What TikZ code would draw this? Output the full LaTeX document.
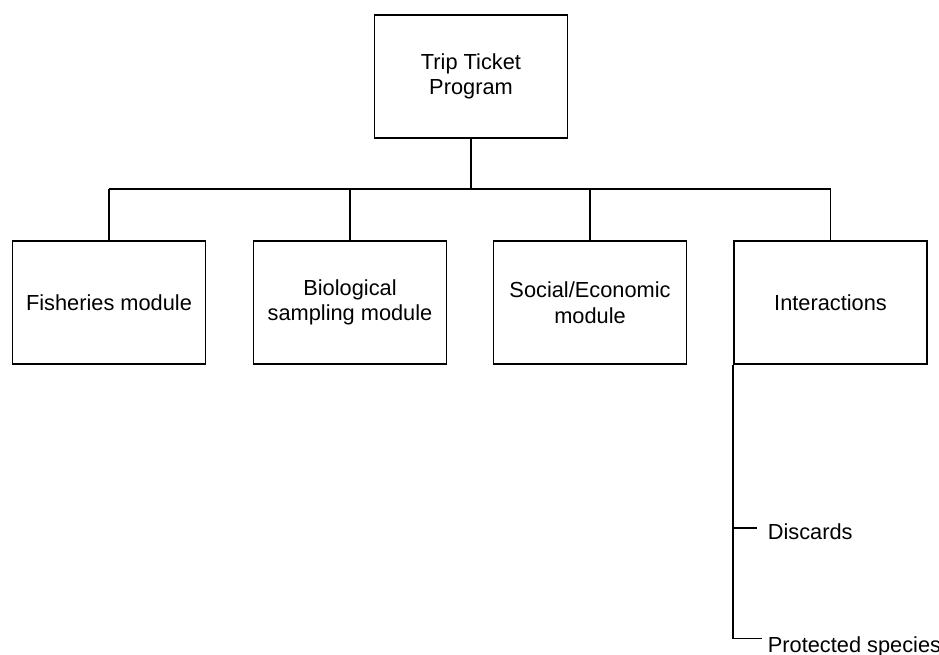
\documentclass[tikz,border=0pt]{standalone}
\usepackage{fontspec}
\setmainfont{Liberation Sans}

\begin{document}
\begin{tikzpicture}[x=0.02cm,y=-0.02cm,line width=1pt,
    module/.style={draw,rectangle,align=center,minimum width=3.86cm,
                   minimum height=2.46cm,font=\fontsize{12.4}{14.6}\selectfont},
    leaf/.style={anchor=base west,inner sep=0pt,font=\fontsize{12.4}{14.6}\selectfont}]
    \useasboundingbox (0,0) rectangle (939,654);
    %top
    \node[module] (trip) at (471,76.5) {Trip Ticket\\Program};
    \coordinate (bus) at (471,189);
    %modules
    \node[module] (fish)  at (109,302.5) {Fisheries module};
    \node[module] (bio)   at (350,302.5) {Biological\\sampling module};
    \node[module] (socio) at (590,302.5) {Social/Economic\\module};
    \node[module] (inter) at (830.5,302.5) {Interactions};
    \draw (trip.south) -- (trip.south |- bus);
    \draw (fish.north |- bus) -- (inter.north |- bus);
    \foreach \m in {fish,bio,socio,inter}
      \draw (\m.north) -- (\m.north |- bus);
    %interactions
    \node[leaf] (disc) at (767,539) {Discards};
    \node[leaf] (prot) at (767,652) {Protected species};
    \coordinate (discT) at (757,528);
    \coordinate (protT) at (762,638.5);
    \draw (inter.south west) |- (protT);
    \draw (inter.south west |- discT) -- (discT);
\end{tikzpicture}
\end{document}
